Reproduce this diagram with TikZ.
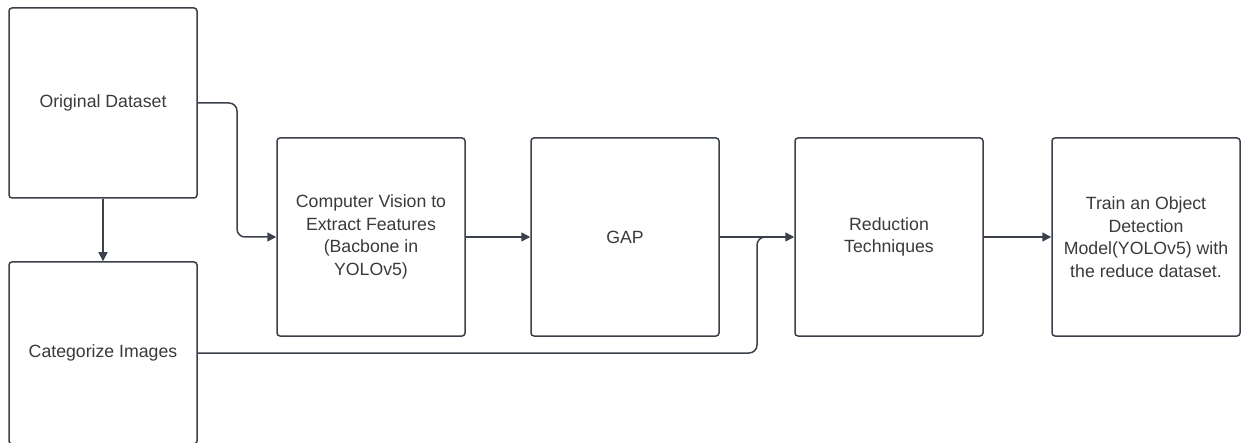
\documentclass[tikz,border=0pt]{standalone}
\usepackage{fontspec}
\setsansfont{Liberation Sans}
\usepackage{tikz}
\usetikzlibrary{arrows.meta}
\definecolor{boxline}{HTML}{3A414A}
\definecolor{boxtext}{HTML}{3A3A3A}

\begin{document}
\begin{tikzpicture}[x=1pt, y=-1pt,
	stage/.style = {draw=boxline, line width=1.5pt, rounded corners=3pt,
		minimum width=188pt, minimum height=198pt, inner sep=0pt,
		align=center, text=boxtext, font=\sffamily\fontsize{17.7}{22.6}\selectfont},
	flow/.style = {draw=boxline, line width=1.5pt, -{Triangle[length=9pt, width=9pt]}},
	link/.style = {draw=boxline, line width=1.5pt, rounded corners=8pt}]
				%\draw[help lines] (0,0) grid[step=50] (1241,443);
				\useasboundingbox (0,0) rectangle (1241,443);
				
				\node[stage, minimum height=190pt] (orig) at (103,103) {Original Dataset};
				\node[stage, minimum height=182pt] (cat) at (103,353) {Categorize Images};
				\node[stage] (cv) at (371,237) {Computer Vision to\\Extract Features\\(Bacbone in\\YOLOv5)};
				\node[stage] (gap) at (625,237) {GAP};
				\node[stage] (red) at (889,237) {Reduction\\Techniques};
				\node[stage] (train) at (1146,237) {Train an Object\\Detection\\Model(YOLOv5) with\\the reduce dataset.};
				
				\coordinate (bend) at (237,103);
				\coordinate (join) at (757,237);
				
				\draw[flow, rounded corners=8pt] (orig.east) -- (bend) |- (cv.west);
				\draw[flow] (orig.south) -- (cat.north);
				\draw[flow] (cv) -- (gap);
				\draw[flow] (gap) -- (red);
				\draw[flow] (red) -- (train);
				\draw[link] (cat.east) -| (join) -- ++(20,0);
\end{tikzpicture}
\end{document}
